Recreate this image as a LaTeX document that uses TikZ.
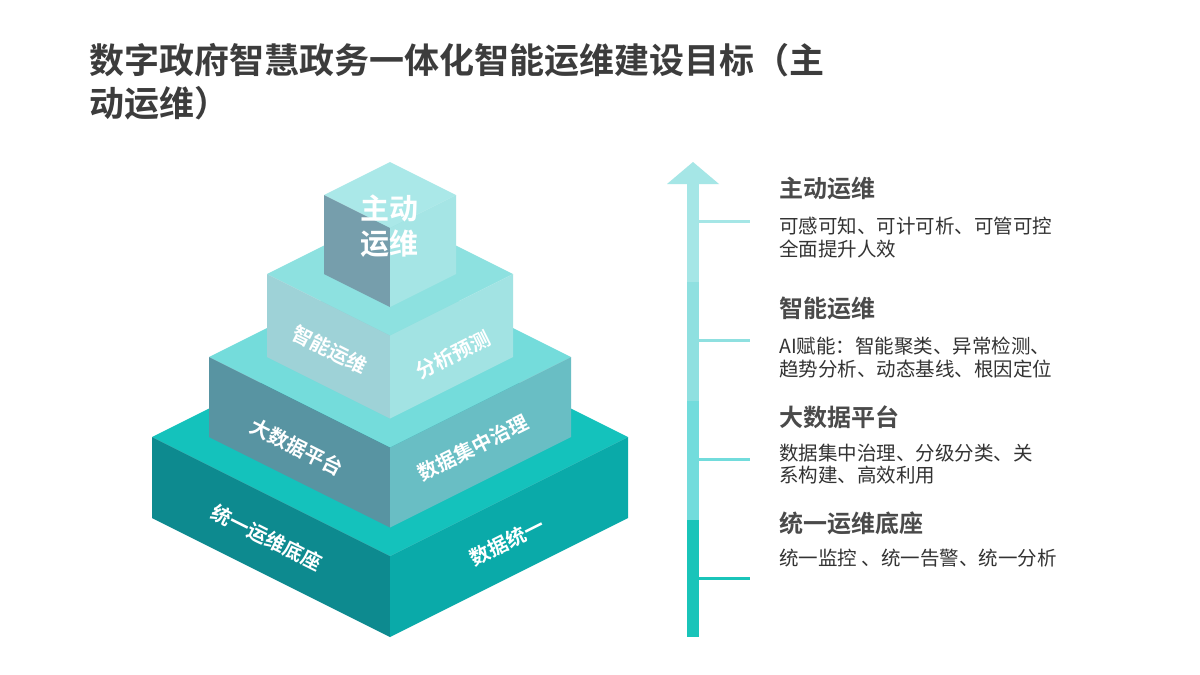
\documentclass[tikz,border=0pt]{standalone}
\usepackage{fontspec}
\setmainfont{Noto Sans CJK SC}[BoldFont={Noto Sans CJK SC Bold}]
\usetikzlibrary{calc}
\definecolor{tfour}{HTML}{14C2BC}\definecolor{lfour}{HTML}{0D8A8F}\definecolor{rfour}{HTML}{0AAAA9}
\definecolor{tthree}{HTML}{74DCDB}\definecolor{lthree}{HTML}{5894A2}\definecolor{rthree}{HTML}{69BEC4}
\definecolor{ttwo}{HTML}{8DE1E0}\definecolor{ltwo}{HTML}{9ED2D7}\definecolor{rtwo}{HTML}{A2E3E3}
\definecolor{tone}{HTML}{AAE8E8}\definecolor{lone}{HTML}{769EAC}\definecolor{rone}{HTML}{A5E5E5}
\definecolor{titlegray}{HTML}{3C3C3C}\definecolor{headgray}{HTML}{4A4A4A}\definecolor{bodygray}{HTML}{333333}
\definecolor{segA}{HTML}{A5E6E6}\definecolor{segB}{HTML}{8FE0E0}\definecolor{segC}{HTML}{72DCDC}\definecolor{segD}{HTML}{19C4B9}
\newcommand\drawtier[6]{% #1 w, #2 c (top center y), #3 h, #4 top, #5 left, #6 right
  \fill[#4] ({390-#1},#2) -- (390,{#2+#1/2}) -- ({390+#1},#2) -- (390,{#2-#1/2}) -- cycle;
  \fill[#5] ({390-#1},#2) -- (390,{#2+#1/2}) -- (390,{#2+#1/2+#3}) -- ({390-#1},{#2+#3}) -- cycle;
  \fill[#6] (390,{#2+#1/2}) -- ({390+#1},#2) -- ({390+#1},{#2+#3}) -- (390,{#2+#1/2+#3}) -- cycle;
}
\tikzset{
  facel/.style={text=white,font=\bfseries\fontsize{20}{24}\selectfont,inner sep=0pt,rotate=-26.57},
  facer/.style={text=white,font=\bfseries\fontsize{20}{24}\selectfont,inner sep=0pt,rotate=26.57},
  headtxt/.style={anchor=west,inner sep=0pt,text=headgray,font=\bfseries\fontsize{24}{28}\selectfont},
  bodytxt/.style={anchor=west,inner sep=0pt,text=bodygray,align=left,font=\fontsize{19.5}{22.5}\selectfont},
  tick/.style={line width=3pt}
}
\begin{document}
\begin{tikzpicture}[x=1pt,y=-1pt]
\useasboundingbox (0,0) rectangle (1200,675);
\fill[white] (0,0) rectangle (1200,675);
% title
\node[anchor=west,inner sep=0pt,text=titlegray,align=left,font=\bfseries\fontsize{35}{43}\selectfont] (title) at (89,81.5)
  {数字政府智慧政务一体化智能运维建设目标（主\\动运维）};
% pyramid
\drawtier{238}{437}{81}{tfour}{lfour}{rfour}
\drawtier{181}{357}{80}{tthree}{lthree}{rthree}
\drawtier{123}{274}{83}{ttwo}{ltwo}{rtwo}
\drawtier{66}{195}{79}{tone}{lone}{rone}
\node[text=white,inner sep=0pt,align=center,font=\bfseries\fontsize{29}{35}\selectfont] (cube) at (389,226) {主动\\运维};
\node[facel] (l2) at (330,350) {智能运维};
\node[facer] (r2) at (453,355) {分析预测};
\node[facel] (l3) at (297,447) {大数据平台};
\node[facer] (r3) at (473,448) {数据集中治理};
\node[facel] (l4) at (267,538) {统一运维底座};
\node[facer] (r4) at (507,542) {数据统一};
% arrow
\fill[segD] (687,519) rectangle (699,637);
\fill[segC] (687,400) rectangle (699,519.5);
\fill[segB] (687,281) rectangle (699,400.5);
\fill[segA] (687,183) rectangle (699,281.5);
\fill[segA] (667,184) -- (693,162) -- (719,184) -- cycle;
\coordinate (k1a) at (699,221); \coordinate (k1b) at (750,221);
\coordinate (k2a) at (699,340); \coordinate (k2b) at (750,340);
\coordinate (k3a) at (699,459); \coordinate (k3b) at (750,459);
\coordinate (k4a) at (699,578); \coordinate (k4b) at (750,578);
\draw[tick,segA] (k1a) -- (k1b);
\draw[tick,segB] (k2a) -- (k2b);
\draw[tick,segC] (k3a) -- (k3b);
\draw[tick,segD] (k4a) -- (k4b);
% right text
\node[headtxt] (h1) at (779,188) {主动运维};
\node[bodytxt] (b1) at (779,237.5) {可感可知、可计可析、可管可控\\全面提升人效};
\node[headtxt] (h2) at (779,308) {智能运维};
\node[bodytxt] (b2) at (779,357.5) {AI赋能：智能聚类、异常检测、\\趋势分析、动态基线、根因定位};
\node[headtxt] (h3) at (779,417) {大数据平台};
\node[bodytxt] (b3) at (779,464) {数据集中治理、分级分类、关\\系构建、高效利用};
\node[headtxt] (h4) at (779,523) {统一运维底座};
\node[bodytxt] (b4) at (779,558) {统一监控 、统一告警、统一分析};
\end{tikzpicture}
\end{document}
